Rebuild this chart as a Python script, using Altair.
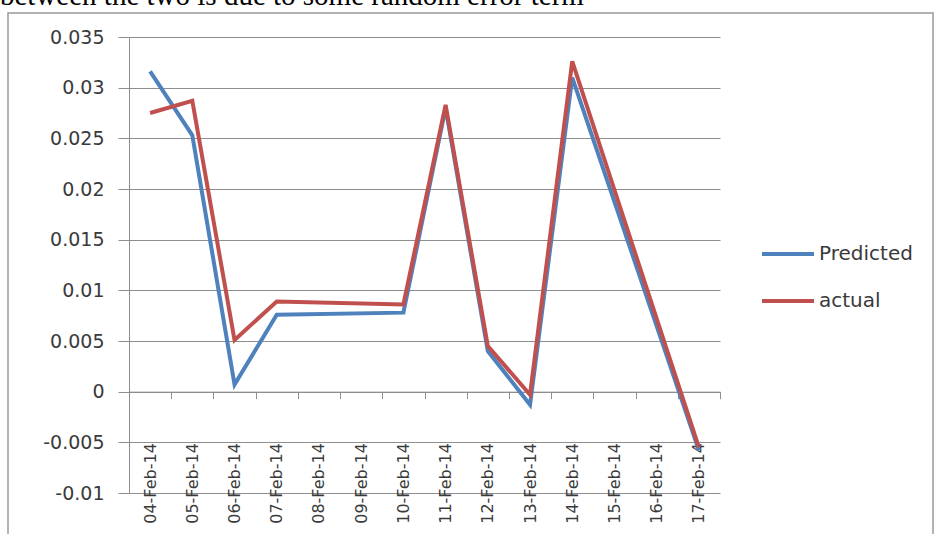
import altair as alt
import pandas as pd

# ---- data ----
categories = ["04-Feb-14", "05-Feb-14", "06-Feb-14", "07-Feb-14", "08-Feb-14",
              "09-Feb-14", "10-Feb-14", "11-Feb-14", "12-Feb-14", "13-Feb-14",
              "14-Feb-14", "15-Feb-14", "16-Feb-14", "17-Feb-14"]
dates = ["04-Feb-14", "05-Feb-14", "06-Feb-14", "07-Feb-14", "10-Feb-14",
         "11-Feb-14", "12-Feb-14", "13-Feb-14", "14-Feb-14", "17-Feb-14"]
predicted = [0.0316, 0.0253, 0.0007, 0.0076, 0.0078, 0.0280, 0.0040, -0.0013, 0.0310, -0.0058]
actual = [0.0275, 0.0287, 0.0051, 0.0089, 0.0086, 0.0283, 0.0045, -0.0003, 0.0326, -0.0055]
y_ticks = [-0.01, -0.005, 0, 0.005, 0.01, 0.015, 0.02, 0.025, 0.03, 0.035]
series_names = ["Predicted", "actual"]
series_colors = ["#4F81BD", "#C0504D"]
header = "between the two is due to some random error term"

W, H = 591, 456
Y_MIN, Y_MAX = -0.01, 0.035

df = pd.DataFrame({
    "date": dates + dates,
    "value": predicted + actual,
    "series": [series_names[0]] * len(dates) + [series_names[1]] * len(dates),
})

grey = "#8E8E8E"
txt = "#3A3A3A"

x_enc = alt.X(
    "date:O",
    scale=alt.Scale(type="band", domain=categories, paddingInner=0, paddingOuter=0),
    bandPosition=0.5,
    sort=categories,
    axis=alt.Axis(
        title=None, orient="bottom", offset=-H * (0 - Y_MIN) / (Y_MAX - Y_MIN),
        domain=True, domainColor=grey, domainWidth=1,
        ticks=True, tickColor=grey, tickSize=7, tickBand="extent",
        labelAngle=-90, labelAlign="right", labelBaseline="middle",
        labelPadding=44, labelFont="DejaVu Sans", labelFontSize=16,
        labelColor=txt, labelOverlap=False, grid=False,
    ),
)
y_enc = alt.Y(
    "value:Q",
    scale=alt.Scale(domain=[Y_MIN, Y_MAX], nice=False, zero=False),
    axis=alt.Axis(
        title=None, values=y_ticks,
        labelExpr="replace(format(datum.value, '.3~f'), '\u2212', '-')",
        grid=True, gridColor=grey, gridWidth=1,
        domain=True, domainColor=grey, ticks=True, tickColor=grey, tickSize=11,
        labelPadding=14, labelFont="DejaVu Sans", labelFontSize=19, labelColor=txt,
    ),
)
color_enc = alt.Color(
    "series:N",
    scale=alt.Scale(domain=series_names, range=series_colors),
    legend=alt.Legend(
        title=None, orient="none", legendX=631, legendY=189,
        symbolType="stroke", symbolSize=2704, symbolStrokeWidth=4,
        labelFont="DejaVu Sans", labelFontSize=20, labelColor=txt,
        rowPadding=9, padding=0, labelOffset=3,
    ),
)

pred_layer = alt.Chart(df).transform_filter(
    alt.datum.series == series_names[0]
).mark_line(strokeWidth=4).encode(x=x_enc, y=y_enc, color=color_enc)

act_layer = alt.Chart(df).transform_filter(
    alt.datum.series == series_names[1]
).mark_line(strokeWidth=4).encode(x=x_enc, y=y_enc, color=color_enc)

frame = alt.Chart(pd.DataFrame({"k": [0]})).mark_rect(
    fill="transparent", stroke="#9A9A9A", strokeWidth=1.5
).encode(x=alt.value(-121), x2=alt.value(804), y=alt.value(-24), y2=alt.value(520))

head = alt.Chart(pd.DataFrame({"k": [0]})).mark_text(
    align="left", baseline="alphabetic", font="Liberation Serif", fontSize=29, color="#000000"
).encode(x=alt.value(-129), y=alt.value(-32), text=alt.value(header))

chart = alt.layer(frame, head, pred_layer, act_layer).properties(
    width=W, height=H,
    autosize=alt.AutoSizeParams(type="none"),
    padding={"left": 129, "top": 37, "right": 936 - 129 - W, "bottom": 534 - 37 - H},
    background="white",
).configure_view(strokeWidth=0)

chart.save("out.html", embed_options={"renderer": "svg", "actions": False})
